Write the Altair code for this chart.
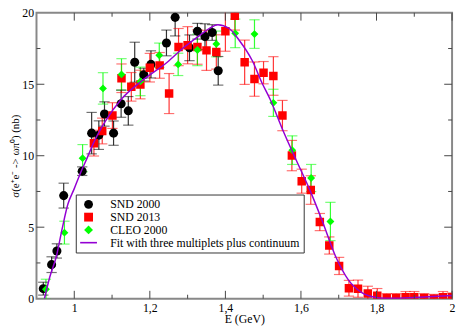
import altair as alt
import pandas as pd

# ---------------- data ----------------
series_names = ["SND 2000", "SND 2013", "CLEO 2000",
                "Fit with three multiplets plus continuum"]
series_colors = ["#000000", "#ff0000", "#00ff00", "#9400d3"]
series_shapes = ["circle", "square", "diamond",
                 "M-1.9,-0.18L1.9,-0.18L1.9,0.18L-1.9,0.18Z"]
data_names = series_names[:3]
data_colors = series_colors[:3]
data_sizes = [85, 64, 95]

snd00_x = [0.918, 0.940, 0.954, 0.972, 1.021, 1.046, 1.065, 1.080, 1.104,
           1.124, 1.143, 1.160, 1.184, 1.203, 1.244, 1.267, 1.305, 1.326,
           1.346, 1.365, 1.381]
snd00_y = [0.70, 2.38, 3.34, 7.21, 8.92, 11.58, 11.44, 12.92, 11.58, 13.64,
           13.14, 16.54, 15.67, 16.39, 17.89, 19.68, 17.55, 18.71, 18.33,
           18.62, 15.94]
snd00_e = [0.45, 0.55, 0.5, 0.87, 0.3, 1.45, 1.0, 0.85, 0.85, 0.95, 1.0,
           1.4, 0.45, 0.95, 0.9, 1.3, 0.9, 0.55, 0.9, 0.55, 1.0]

snd13_x = [1.052, 1.074, 1.101, 1.125, 1.151, 1.175, 1.200, 1.226, 1.251,
           1.276, 1.300, 1.326, 1.350, 1.376, 1.400, 1.425, 1.451, 1.477,
           1.501, 1.527, 1.551, 1.576, 1.602, 1.626, 1.650, 1.675, 1.701,
           1.727, 1.751, 1.777, 1.802, 1.827, 1.852, 1.877, 1.900, 1.926,
           1.952, 1.976, 2.000]
snd13_y = [10.88, 11.73, 12.81, 15.42, 14.82, 14.98, 16.16, 16.32, 14.35,
           17.60, 17.73, 17.60, 17.37, 17.26, 18.71, 19.79, 16.54, 15.36,
           15.81, 15.58, 12.81, 10.01, 8.22, 7.60, 5.36, 3.72, 2.29, 0.73,
           0.70, 0.37, 0.21, 0.05, 0.05, 0.10, 0.10, 0.05, 0.00, 0.10, 0.10]
snd13_e = [0.9, 0.9, 0.9, 1.0, 1.0, 1.0, 1.0, 0.9, 1.4, 1.3, 1.3, 1.2, 1.4,
           1.2, 1.4, 1.0, 1.55, 1.2, 0.78, 1.35, 1.06, 1.06, 0.84, 1.0, 0.6,
           0.6, 0.6, 0.55, 0.6, 0.5, 0.5, 0.3, 0.3, 0.4, 0.4, 0.3, 0.3, 0.4,
           0.3]

cleo_x = [0.925, 0.974, 1.022, 1.076, 1.125, 1.175, 1.225, 1.275, 1.326,
          1.376, 1.426, 1.477, 1.527, 1.577, 1.627, 1.678]
cleo_y = [0.66, 4.62, 9.83, 14.71, 15.69, 15.20, 17.03, 16.39, 17.40, 17.82,
          18.56, 18.51, 13.70, 10.39, 8.44, 5.40]
cleo_e = [0.7, 0.8, 0.95, 1.1, 1.1, 1.0, 0.85, 0.78, 1.1, 0.9, 1.0, 1.0,
          0.95, 1.0, 0.95, 1.34]

fit_x = [0.921, 0.935, 0.953, 0.968, 0.983, 1.000, 1.017, 1.035, 1.052,
         1.082, 1.125, 1.177, 1.246, 1.289, 1.333, 1.360, 1.380, 1.410,
         1.436, 1.471, 1.497, 1.518, 1.553, 1.587, 1.622, 1.656, 1.691,
         1.725, 1.760, 1.795, 1.820, 1.860, 1.900, 1.950, 2.000]
fit_y = [0.0, 1.5, 3.0, 4.9, 6.6, 7.7, 8.83, 9.9, 10.95, 12.4, 13.97, 15.2,
         16.54, 17.55, 18.44, 18.95, 19.16, 18.9, 18.1, 16.66, 15.09, 13.97,
         11.73, 9.72, 7.7, 5.47, 3.0, 1.33, 0.44, 0.1, 0.03, 0.03, 0.08,
         0.15, 0.22]

x_major = [1.0, 1.2, 1.4, 1.6, 1.8, 2.0]
x_minor = [1.1, 1.3, 1.5, 1.7, 1.9]
y_major = [5, 10, 15]
y_minor = [2.5, 7.5, 12.5, 17.5]
x_labels = [1.0, 1.2, 1.4, 1.6, 1.8, 2.0]
y_labels = [0, 5, 10, 15, 20]

# ---------------- tables ----------------
rows = []
for name, xs, ys, es in [(series_names[0], snd00_x, snd00_y, snd00_e),
                         (series_names[1], snd13_x, snd13_y, snd13_e),
                         (series_names[2], cleo_x, cleo_y, cleo_e)]:
    for xv, yv, ev in zip(xs, ys, es):
        rows.append({"series": name, "x": xv, "y": yv,
                     "lo": yv - ev, "hi": yv + ev})
pts = pd.DataFrame(rows)
fit = pd.DataFrame({"x": fit_x, "y": fit_y})

W, H = 423, 291
FONT = "Liberation Serif, Times New Roman, serif"
TICK = "#444444"

xscale = alt.Scale(domain=[0.9, 2.0], nice=False, zero=False)
yscale = alt.Scale(domain=[0, 20], nice=False, zero=False)
xaxis = alt.Axis(values=x_labels, format="~g",
                 labelExpr="replace(datum.label, '.', ',')",
                 ticks=False, domain=False, grid=False, labelFlush=False,
                 labelFont=FONT, labelFontSize=12, labelColor="black",
                 labelPadding=4, title="E (GeV)", titleFont=FONT,
                 titleFontSize=12, titleFontWeight="normal",
                 titleColor="black", titlePadding=0)
yaxis = alt.Axis(values=y_labels, ticks=False, domain=False, grid=False,
                 labelFlush=False, labelFont=FONT, labelFontSize=12,
                 labelColor="black", labelPadding=3,
                 title="σ(e⁺e⁻ -> ωπ⁰) (nb)", titleFont=FONT,
                 titleFontSize=11, titleFontWeight="normal",
                 titleColor="black", titlePadding=1)

cscale = alt.Scale(domain=series_names, range=series_colors)
shscale = alt.Scale(domain=series_names, range=series_shapes)
szscale = alt.Scale(domain=data_names, range=data_sizes)
stscale = alt.Scale(domain=data_names, range=data_colors)

leg = alt.Legend(title=None, orient="none", legendX=40, legendY=185,
                 padding=4, symbolOffset=3, labelOffset=16, rowPadding=1,
                 labelFont=FONT, labelFontSize=12, labelColor="black",
                 labelLimit=400, strokeColor="#333333", fillColor="white",
                 symbolSize=81, symbolStrokeWidth=0)

X = alt.X("x:Q", scale=xscale, axis=xaxis)

bars = alt.Chart(pts).mark_rule(strokeWidth=1.2, opacity=0.8, clip=True).encode(
    x=X,
    y=alt.Y("lo:Q", scale=yscale, axis=yaxis),
    y2="hi:Q",
    stroke=alt.Stroke("series:N", scale=stscale, legend=None),
)
cap_lo = alt.Chart(pts).mark_point(shape="M-1,0L1,0", filled=False, size=110,
                                   strokeWidth=1.2, opacity=0.55, clip=True).encode(
    x=X,
    y=alt.Y("lo:Q", scale=yscale, axis=yaxis),
    stroke=alt.Stroke("series:N", scale=stscale, legend=None),
)
cap_hi = alt.Chart(pts).mark_point(shape="M-1,0L1,0", filled=False, size=110,
                                   strokeWidth=1.2, opacity=0.55, clip=True).encode(
    x=X,
    y=alt.Y("hi:Q", scale=yscale, axis=yaxis),
    stroke=alt.Stroke("series:N", scale=stscale, legend=None),
)
points = alt.Chart(pts).mark_point(filled=True, opacity=1, clip=True).encode(
    x=X,
    y=alt.Y("y:Q", scale=yscale, axis=yaxis),
    color=alt.Color("series:N", scale=cscale, legend=leg),
    shape=alt.Shape("series:N", scale=shscale, legend=leg),
    size=alt.Size("series:N", scale=szscale, legend=None),
)
line = alt.Chart(fit).mark_line(color="#9400d3", strokeWidth=1.5,
                                interpolate="monotone", clip=True).encode(
    x=X,
    y=alt.Y("y:Q", scale=yscale, axis=yaxis),
)


def xticks(vals, y0, y1):
    return alt.Chart(pd.DataFrame({"v": vals})).mark_rule(
        color=TICK, strokeWidth=1).encode(
        x=alt.X("v:Q", scale=xscale, axis=xaxis),
        y=alt.value(y0), y2=alt.value(y1))


def yticks(vals, x0, x1):
    return alt.Chart(pd.DataFrame({"v": vals})).mark_rule(
        color=TICK, strokeWidth=1).encode(
        y=alt.Y("v:Q", scale=yscale, axis=yaxis),
        x=alt.value(x0), x2=alt.value(x1))


ticks = [
    xticks(x_major, H, H - 8), xticks(x_major, 0, 8),
    xticks(x_minor, H, H - 4), xticks(x_minor, 0, 4),
    yticks(y_major, 0, 8), yticks(y_major, W, W - 8),
    yticks(y_minor, 0, 4), yticks(y_minor, W, W - 4),
]

chart = alt.layer(bars, cap_lo, cap_hi, points, line, *ticks).properties(
    width=W, height=H,
    padding={"left": 29, "top": 2, "right": 4, "bottom": 28},
    autosize=alt.AutoSizeParams(type="none"),
    background="white",
).configure_view(stroke="#888888", strokeWidth=2)

chart.save("out.html", embed_options={"renderer": "svg", "actions": False})
